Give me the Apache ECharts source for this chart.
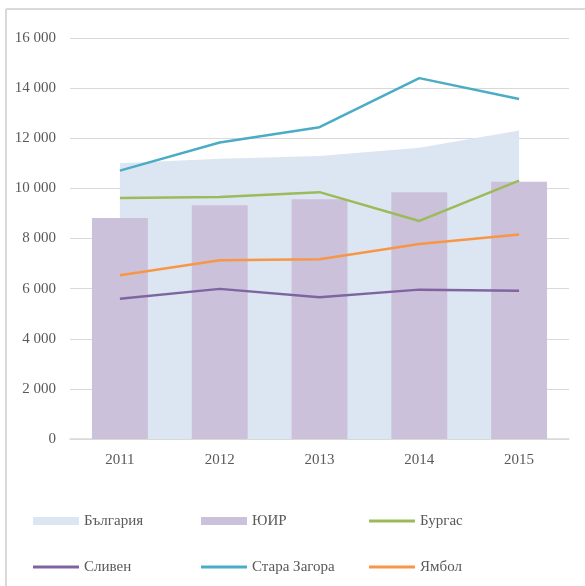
<!DOCTYPE html>
<html>
<head>
<meta charset="utf-8">
<script src="https://cdn.jsdelivr.net/npm/echarts@6/dist/echarts.min.js"></script>
<style>
  html, body { margin: 0; padding: 0; background: #fff; overflow: hidden; }
  #chart { width: 585px; height: 586px; }
</style>
</head>
<body>
<div id="chart"></div>
<script>
const years = ['2011', '2012', '2013', '2014', '2015']
const bulgaria = [11000, 11180, 11290, 11620, 12310]
const yuir = [8820, 9330, 9570, 9850, 10260]
const burgas = [9620, 9660, 9850, 8700, 10310]
const sliven = [5600, 5990, 5660, 5960, 5920]
const staraZagora = [10710, 11830, 12440, 14400, 13570]
const yambol = [6530, 7130, 7170, 7780, 8160]

const colors = {
  'България': '#dce6f2',
  'ЮИР': '#ccc1da',
  'Бургас': '#9bbb59',
  'Сливен': '#8064a2',
  'Стара Загора': '#4bacc6',
  'Ямбол': '#f79646',
}

const font = '"Liberation Serif", "DejaVu Serif", serif'
const textColor = '#595959'

const chart = echarts.init(document.getElementById('chart'))

function lineSeries(name, data) {
  return {
    name,
    type: 'line',
    data,
    showSymbol: false,
    symbol: 'none',
    lineStyle: { color: colors[name], width: 2.5 },
    itemStyle: { color: colors[name] },
    z: 5,
  }
}

// legend layout: 3 columns x 2 rows, top = row centre - 8
const legendItems = [
  { name: 'България', left: 33, top: 513, h: 8 },
  { name: 'ЮИР', left: 201, top: 513, h: 8 },
  { name: 'Бургас', left: 369, top: 513, h: 3 },
  { name: 'Сливен', left: 33, top: 559, h: 3 },
  { name: 'Стара Загора', left: 201, top: 559, h: 3 },
  { name: 'Ямбол', left: 369, top: 559, h: 3 },
]

const legends = legendItems.map((it) => ({
  data: [it.name],
  left: it.left,
  top: it.top,
  icon: 'rect',
  itemWidth: 46,
  itemHeight: it.h,
  itemGap: 0,
  padding: 0,
  textStyle: { fontFamily: font, fontSize: 15, lineHeight: 16, color: textColor },
  selectedMode: false,
}))

chart.setOption({
  animation: false,
  legend: legends,
  // chart-area frame: top and left edges only
  graphic: [
    { type: 'line', shape: { x1: 6, y1: 9, x2: 585, y2: 9 }, style: { stroke: '#d9d9d9', lineWidth: 2 }, silent: true },
    { type: 'line', shape: { x1: 6, y1: 9, x2: 6, y2: 586 }, style: { stroke: '#d9d9d9', lineWidth: 2 }, silent: true },
  ],
  grid: { left: 70, right: 16, top: 38, bottom: 147 },
  xAxis: {
    type: 'category',
    data: years,
    boundaryGap: true,
    axisLine: { lineStyle: { color: '#d9d9d9', width: 1.5 } },
    axisTick: { show: false },
    axisLabel: { fontFamily: font, fontSize: 15, color: textColor, margin: 14 },
  },
  yAxis: {
    type: 'value',
    min: 0,
    max: 16000,
    interval: 2000,
    axisLine: { show: false },
    axisTick: { show: false },
    splitLine: { lineStyle: { color: '#d9d9d9', width: 1.2 } },
    axisLabel: {
      fontFamily: font, fontSize: 15, color: textColor, margin: 14,
      formatter: (v) => String(v).replace(/\B(?=(\d{3})+(?!\d))/g, ' '),
    },
  },
  series: [
    {
      name: 'България',
      type: 'line',
      data: bulgaria,
      showSymbol: false,
      symbol: 'none',
      lineStyle: { width: 0, color: colors['България'] },
      itemStyle: { color: colors['България'] },
      areaStyle: { color: colors['България'], opacity: 1 },
      z: 1,
    },
    {
      name: 'ЮИР',
      type: 'bar',
      data: yuir,
      barWidth: '56%',
      itemStyle: { color: colors['ЮИР'] },
      z: 2,
    },
    lineSeries('Бургас', burgas),
    lineSeries('Сливен', sliven),
    lineSeries('Стара Загора', staraZagora),
    lineSeries('Ямбол', yambol),
  ],
})
</script>
</body>
</html>
